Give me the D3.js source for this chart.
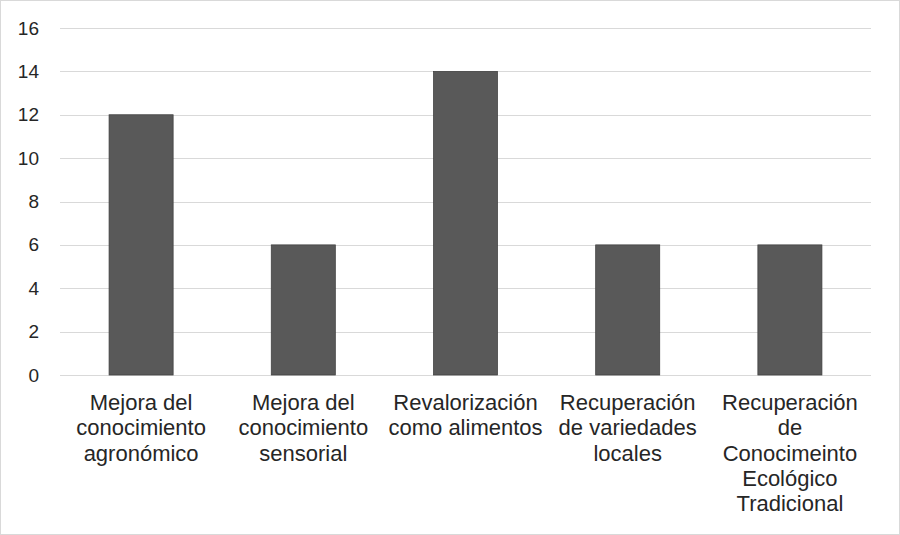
<!DOCTYPE html>
<html>
<head>
<meta charset="utf-8">
<script src="https://cdn.jsdelivr.net/npm/d3@7"></script>
<style>
  body { margin: 0; background: #fff; }
  svg { display: block; font-family: "Liberation Sans", Arial, sans-serif; }
</style>
</head>
<body>
<div id="chart"></div>
<script>
// chart data
const categories = [
  ["Mejora del", "conocimiento", "agronómico"],
  ["Mejora del", "conocimiento", "sensorial"],
  ["Revalorización", "como alimentos"],
  ["Recuperación", "de variedades", "locales"],
  ["Recuperación", "de", "Conocimeinto", "Ecológico", "Tradicional"]
];
const values = [12, 6, 14, 6, 6];
const yTicks = [0, 2, 4, 6, 8, 10, 12, 14, 16];

const W = 900, H = 535;
const margin = {top: 28, right: 29, bottom: 160, left: 60};
const width = W - margin.left - margin.right;
const height = H - margin.top - margin.bottom;

const svg = d3.select("#chart").append("svg")
  .attr("width", W)
  .attr("height", H);

// outer border
svg.append("rect")
  .attr("x", 0.5).attr("y", 0.5)
  .attr("width", W - 1).attr("height", H - 1)
  .attr("fill", "#fff")
  .attr("stroke", "#d9d9d9");

const g = svg.append("g")
  .attr("transform", `translate(${margin.left},${margin.top})`);

const x = d3.scaleBand()
  .domain(d3.range(values.length))
  .range([0, width])
  .paddingInner(0.605)
  .paddingOuter(0.3025);

const y = d3.scaleLinear()
  .domain([0, 16])
  .range([height, 0]);

// gridlines
g.selectAll(".grid")
  .data(yTicks)
  .enter().append("line")
  .attr("x1", 0).attr("x2", width)
  .attr("y1", d => Math.round(y(d)) + 0.5)
  .attr("y2", d => Math.round(y(d)) + 0.5)
  .attr("stroke", "#d9d9d9")
  .attr("stroke-width", 1);

// y tick labels
const yAxis = g.append("g")
  .call(d3.axisLeft(y).tickValues(yTicks).tickSize(0).tickPadding(21));
yAxis.select(".domain").remove();
yAxis.selectAll("text")
  .style("font-family", "\"Liberation Sans\", Arial, sans-serif")
  .style("font-size", "19px")
  .attr("fill", "#262626");

// bars
g.selectAll(".bar")
  .data(values)
  .enter().append("rect")
  .attr("x", (d, i) => x(i))
  .attr("y", d => y(d))
  .attr("width", x.bandwidth())
  .attr("height", d => height - y(d))
  .attr("fill", "#595959")
  .attr("stroke", "#404040")
  .attr("stroke-width", 0.75);

// category labels
const labels = g.selectAll(".cat")
  .data(categories)
  .enter().append("text")
  .attr("text-anchor", "middle")
  .attr("fill", "#262626")
  .style("font-size", "22px")
  .attr("transform", (d, i) => `translate(${x(i) + x.bandwidth() / 2},${height + 35})`);

labels.selectAll("tspan")
  .data(d => d)
  .enter().append("tspan")
  .attr("x", 0)
  .attr("y", (d, i) => i * 25.3)
  .text(d => d);
</script>
</body>
</html>
